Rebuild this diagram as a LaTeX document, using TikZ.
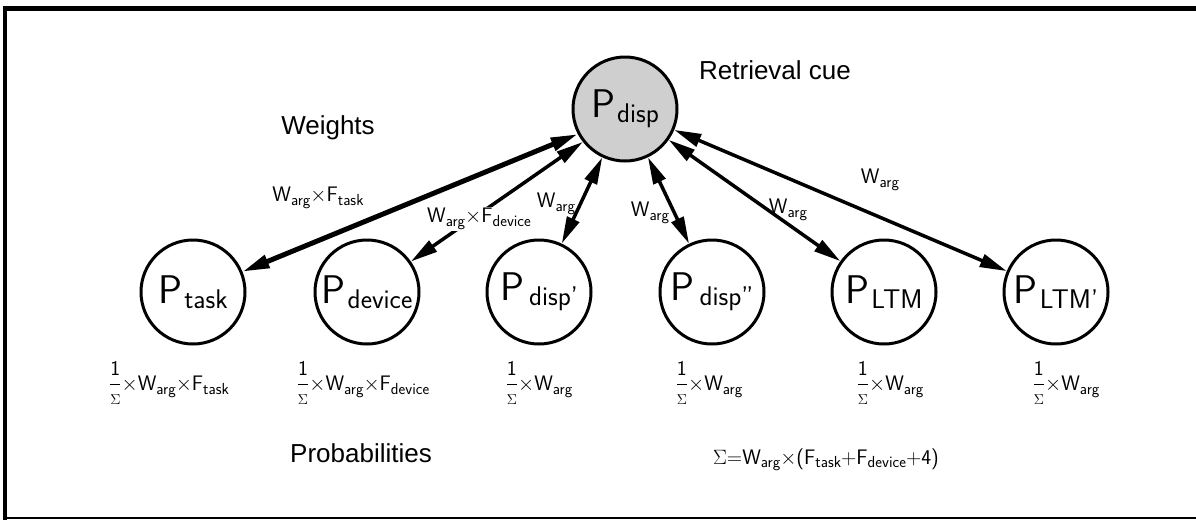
\documentclass[tikz,border=0pt]{standalone}
\usepackage{amsmath}
\usepackage{fontspec}
\setmainfont{Liberation Sans}
\usetikzlibrary{arrows.meta}

% subscripts for node names and edge weights
\newcommand{\nsub}[1]{\kern2pt\raisebox{-5pt}{\fontsize{27}{27}\selectfont #1}}
\newcommand{\esub}[1]{\raisebox{-3.5pt}{\fontsize{16}{16}\selectfont #1}}
\newcommand{\onesig}{\raisebox{1pt}{$\genfrac{}{}{1.4pt}{0}{\mathsf{1}}{\scriptstyle\Sigma}$}}
\newcommand{\tms}{$\times$}

\tikzset{
  x=1pt, y=-1pt,
  elem/.style={circle, draw, line width=3pt, minimum size=104pt, inner sep=0pt,
    font=\sffamily\fontsize{40}{40}\selectfont},
  cue/.style={elem, fill=gray!38},
  conn/.style={line width=3.5pt,
    {Triangle[length=27pt,width=13pt]}-{Triangle[length=27pt,width=13pt]}},
  heavyconn/.style={conn, line width=5pt},
  wlabel/.style={inner sep=1pt, font=\sffamily\fontsize{21}{21}\selectfont},
  prob/.style={inner sep=1pt, font=\sffamily\fontsize{21}{21}\selectfont},
  title/.style={inner sep=1pt, font=\fontsize{26}{26}\selectfont},
  frameline/.style={line width=#1, line cap=rect}
}

\begin{document}
\begin{tikzpicture}
\useasboundingbox (0,0) rectangle (1196,520);

% outer frame
\draw[frameline=5pt] (5,8) -- (1196,8);
\draw[frameline=3.5pt] (5,8) -- (5,518);
\draw[frameline=2pt] (5,518) -- (1196,518);

% retrieval cue and the elements it activates
\node[cue]  (pdisp)  at (625,109) {P\nsub{disp}};
\node[elem] (ptask)  at (193,292) {P\nsub{task}};
\node[elem] (pdev)   at (367,292) {P\nsub{device}};
\node[elem] (pdisp1) at (539,292) {P\nsub{\kern3pt disp'}};
\node[elem] (pdisp2) at (712,292) {P\nsub{\kern3pt disp''}};
\node[elem] (pltm)   at (884,292) {P\nsub{LTM}};
\node[elem] (pltm1)  at (1056,292) {P\nsub{LTM'}};

% weighted associations
\draw[heavyconn] (pdisp.-152) -- (ptask);
\draw[conn] (pdisp.-142) -- (pdev);
\draw[conn] (pdisp) -- (pdisp1);
\draw[conn] (pdisp) -- (pdisp2);
\draw[conn] (pdisp) -- (pltm);
\draw[conn] (pdisp) -- (pltm1);

% weight labels
\node[wlabel] (wtask) at (318,198) {W\esub{arg}\tms F\esub{task}};
\node[wlabel, fill=white] (wdev) at (479,219) {W\esub{arg}\tms F\esub{device}};
\node[wlabel] (wd1)   at (556,204) {W\esub{arg}};
\node[wlabel] (wd2)   at (650,213) {W\esub{arg}};
\node[wlabel] (wl1)   at (788,210) {W\esub{arg}};
\node[wlabel] (wl2)   at (880,180) {W\esub{arg}};

% headings
\node[title] (weights) at (328,128) {Weights};
\node[title] (cuelbl)  at (775,70)  {Retrieval cue};
\node[title] (probs)   at (361,453) {Probabilities};

% retrieval probabilities
\node[prob] (qtask) at (169,383) {\onesig\tms W\esub{arg}\tms F\esub{task}};
\node[prob] (qdev)  at (363,383) {\onesig\tms W\esub{arg}\tms F\esub{device}};
\node[prob] (qd1)   at (539,383) {\onesig\tms W\esub{arg}};
\node[prob] (qd2)   at (709,383) {\onesig\tms W\esub{arg}};
\node[prob] (ql1)   at (890,383) {\onesig\tms W\esub{arg}};
\node[prob] (ql2)   at (1066,383) {\onesig\tms W\esub{arg}};

\node[prob] (total) at (826,460) {$\Sigma$=W\esub{arg}\tms(F\esub{task}+F\esub{device}+4)};
\end{tikzpicture}
\end{document}
